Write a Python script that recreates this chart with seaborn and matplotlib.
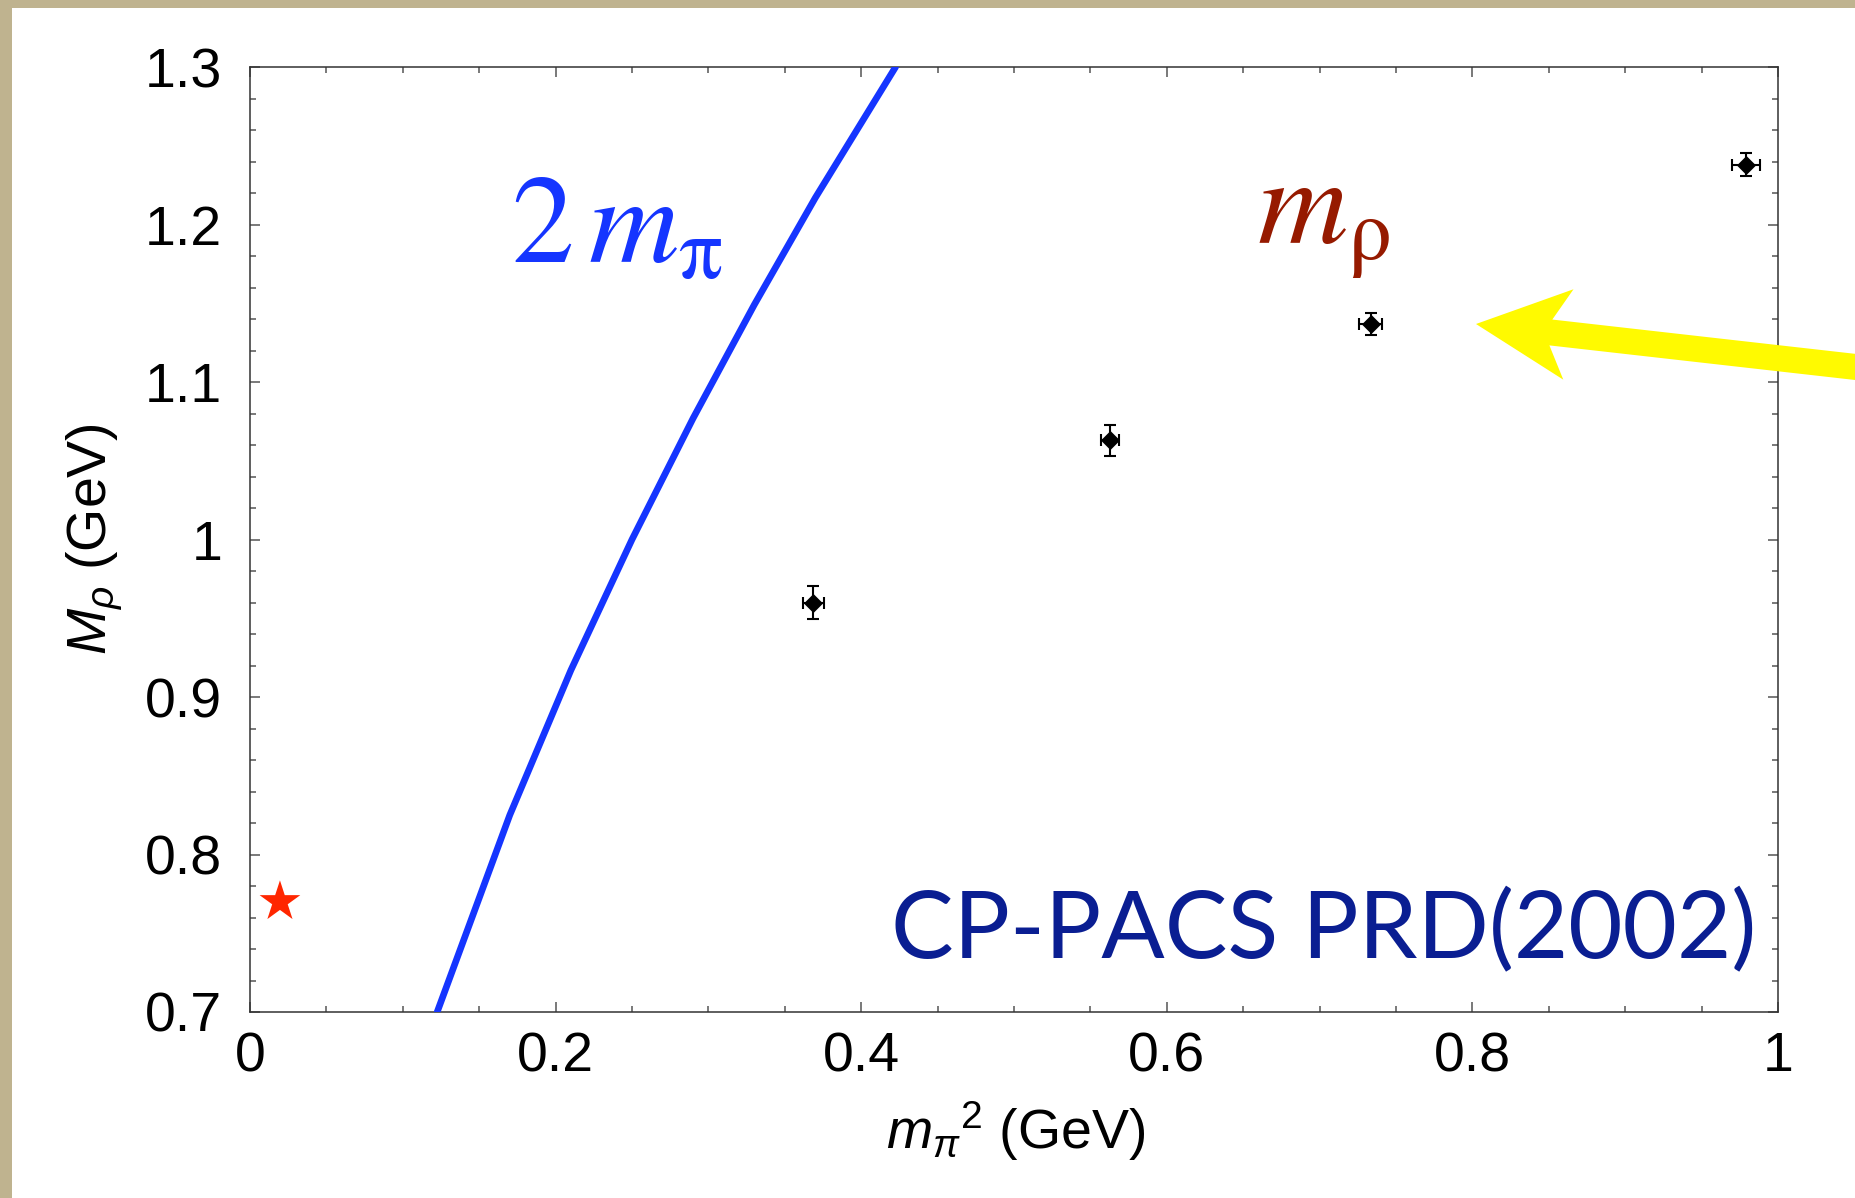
import matplotlib
matplotlib.use("Agg")
import matplotlib.pyplot as plt
from matplotlib.patches import Rectangle, FancyArrow
from matplotlib.ticker import MultipleLocator, FixedLocator, FixedFormatter
import numpy as np
import pandas as pd
import seaborn as sns

# ---- data -------------------------------------------------------------
# CP-PACS rho mass vs squared pion mass
mpi2 = [0.3687, 0.5628, 0.7334, 0.9793]
mrho = [0.960, 1.063, 1.137, 1.238]
mpi2_err = [0.0068, 0.0061, 0.0074, 0.0092]
mrho_err = [0.0106, 0.0097, 0.0070, 0.0071]

# physical point
phys_mpi2 = [0.0196]
phys_mrho = [0.770]

# two-pion threshold curve
thr_mpi2 = [0.1225, 0.17, 0.21, 0.25, 0.29, 0.33, 0.37, 0.4225]
thr_mass = [0.700, 0.825, 0.917, 1.000, 1.077, 1.149, 1.217, 1.300]

xticks = [0.0, 0.2, 0.4, 0.6, 0.8, 1.0]
xtick_labels = ["0", "0.2", "0.4", "0.6", "0.8", "1"]
yticks = [0.7, 0.8, 0.9, 1.0, 1.1, 1.2, 1.3]
ytick_labels = ["0.7", "0.8", "0.9", "1", "1.1", "1.2", "1.3"]

lattice = pd.DataFrame({"mpi2": mpi2, "mrho": mrho})
threshold = pd.DataFrame({"mpi2": thr_mpi2, "mass": thr_mass})
physical = pd.DataFrame({"mpi2": phys_mpi2, "mrho": phys_mrho})

# ---- style ------------------------------------------------------------
sns.set_style("ticks")
plt.rcParams["font.family"] = ["Liberation Sans", "DejaVu Sans"]
plt.rcParams["mathtext.fontset"] = "custom"
plt.rcParams["mathtext.rm"] = "Liberation Sans"
plt.rcParams["mathtext.it"] = "Liberation Sans:italic"
plt.rcParams["mathtext.bf"] = "Liberation Sans:bold"
plt.rcParams["axes.labelcolor"] = "black"
plt.rcParams["text.color"] = "black"

W, H = 1856, 1198
fig = plt.figure(figsize=(W / 100, H / 100), dpi=100)
fig.patch.set_facecolor("#BFB38F")
# white slide panel
fig.add_artist(Rectangle((12 / W, 0), 1 - 12 / W, (H - 8) / H,
                         transform=fig.transFigure, facecolor="white",
                         edgecolor="none", zorder=-5))

ax = fig.add_axes([250 / W, (H - 1012) / H, 1528 / W, 945 / H])
ax.set_facecolor("white")

# threshold line
sns.lineplot(data=threshold, x="mpi2", y="mass", ax=ax, sort=False,
             color="#1535FF", linewidth=4.8, estimator=None, zorder=3)

# lattice points with error bars
ax.errorbar(mpi2, mrho, xerr=mpi2_err, yerr=mrho_err, fmt="none",
            ecolor="black", elinewidth=1.5, capsize=4.6, capthick=1.5,
            zorder=4)
sns.scatterplot(data=lattice, x="mpi2", y="mrho", ax=ax, marker="D",
                s=95, color="black", edgecolor="black", linewidth=0,
                zorder=5)

# physical rho
sns.scatterplot(data=physical, x="mpi2", y="mrho", ax=ax, marker="*",
                s=950, color="#FF2600", edgecolor="none", linewidth=0,
                zorder=5, clip_on=False)

ax.set_xlim(0, 1)
ax.set_ylim(0.7, 1.3)

ax.xaxis.set_major_locator(FixedLocator(xticks))
ax.xaxis.set_major_formatter(FixedFormatter(xtick_labels))
ax.xaxis.set_minor_locator(MultipleLocator(0.05))
ax.yaxis.set_major_locator(FixedLocator(yticks))
ax.yaxis.set_major_formatter(FixedFormatter(ytick_labels))
ax.yaxis.set_minor_locator(MultipleLocator(0.02))

ax.tick_params(which="both", direction="in", top=True, right=True,
               color="#555555", width=1.1)
ax.tick_params(which="major", length=7.5, labelsize=40, pad=14,
               labelcolor="black")
ax.tick_params(which="minor", length=4.5)
ax.tick_params(axis="y", which="major", pad=20)
for sp in ax.spines.values():
    sp.set_visible(True)
    sp.set_color("#333333")
    sp.set_linewidth(1.1)

ax.set_xlabel(r"$m_{\pi}{}^{2}$ (GeV)", fontsize=40, color="black")
ax.set_ylabel(r"$M_{\rho}$ (GeV)", fontsize=40, color="black")
ax.xaxis.set_label_coords(0.501, -0.093)
ax.yaxis.set_label_coords(-0.082, 0.5005)

# annotations
ax.text(0.171, 1.1756, r"$2\,m_{\mathrm{\pi}}$", color="#1535FF",
        fontsize=90, math_fontfamily="stix", ha="left", va="baseline",
        zorder=6)
ax.text(0.659, 1.188, r"$m_{\mathrm{\rho}}$", color="#961A00",
        fontsize=90, math_fontfamily="stix", ha="left", va="baseline",
        zorder=6)
ax.text(0.9856, 0.7343, "CP-PACS PRD(2002)", color="#0A1E92",
        fontsize=67.5, family=["Lato", "DejaVu Sans"], ha="right",
        va="baseline", zorder=6)

# yellow pointer arrow (figure inches)
tip_x, tip_y = 1476 / 100, (H - 324) / 100
tail_x, tail_y = 1900 / 100, (H - 372) / 100
fig.add_artist(FancyArrow(tail_x, tail_y, tip_x - tail_x, tip_y - tail_y,
                          width=0.26, head_width=0.91, head_length=0.93,
                          overhang=0.19, length_includes_head=True,
                          transform=fig.dpi_scale_trans,
                          facecolor="#FFFA00", edgecolor="none", zorder=10))

fig.savefig("out.png", dpi=100, facecolor=fig.get_facecolor())
